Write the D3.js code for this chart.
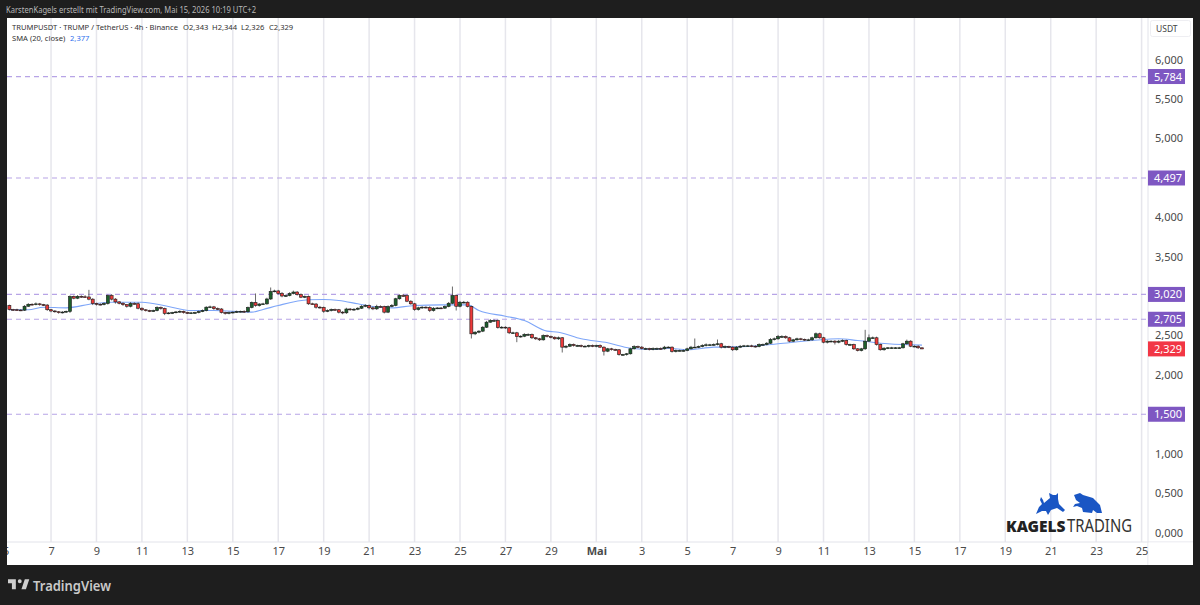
<!DOCTYPE html>
<html>
<head>
<meta charset="utf-8">
<script src="https://cdn.jsdelivr.net/npm/d3@7/dist/d3.min.js"></script>
<style>
html,body{margin:0;padding:0;background:#1e1e1e;overflow:hidden}
svg{display:block}
text{font-family:"Noto Sans",sans-serif}
</style>
</head>
<body>
<svg id="chart" width="1200" height="605"></svg>
<script>
// 4h closes, TRUMP/USDT, starting 5 April 04:00
const firstOpen = 2880;
const closes = [
2829,2826,2822,2820,2870,2895,2892,2900,2890,2885,2826,2810,2800,2790,2796,2805,2994,2972,2995,2990,
2988,2960,2905,2895,2892,2905,3006,2960,2925,2908,2890,2870,2905,2902,2845,2825,2815,2810,2815,2855,
2842,2780,2785,2790,2798,2805,2790,2785,2786,2790,2803,2815,2858,2862,2840,2835,2790,2782,2790,2795,
2802,2805,2800,2854,2918,2880,2898,2900,2962,3057,3064,3032,3000,3006,3032,3050,3019,2985,2994,2901,
2898,2858,2854,2807,2816,2829,2826,2795,2787,2835,2825,2832,2845,2870,2880,2850,2837,2867,2865,2795,
2867,2880,2965,3006,3004,2934,2901,2829,2850,2858,2854,2816,2845,2848,2846,2867,2908,3006,2870,2921,
2921,2867,2520,2541,2554,2604,2668,2689,2689,2600,2604,2597,2533,2533,2486,2490,2512,2512,2470,2457,
2444,2499,2486,2477,2457,2470,2351,2363,2385,2372,2372,2363,2363,2372,2363,2372,2351,2300,2330,2321,
2318,2258,2258,2267,2330,2359,2351,2334,2334,2321,2334,2334,2330,2351,2351,2296,2309,2309,2309,2330,
2351,2351,2359,2372,2381,2381,2385,2394,2351,2359,2351,2318,2351,2363,2368,2368,2363,2359,2385,2385,
2401,2448,2457,2486,2486,2470,2427,2444,2457,2450,2444,2444,2470,2521,2470,2414,2427,2427,2414,2427,
2436,2385,2385,2330,2309,2330,2427,2470,2470,2385,2318,2338,2343,2343,2343,2343,2394,2427,2363,2363,
2343,2329];

// Height of the upper wick above the body, per candle
const upperWicks = [
10,8,12,10,15,14,12,18,12,10,12,8,10,8,12,10,14,12,16,14,
20,90,12,10,12,14,12,18,14,10,12,8,18,14,16,10,8,10,12,14,
12,10,12,10,12,14,10,10,12,10,12,14,12,16,12,14,12,10,12,10,
12,10,14,12,12,114,12,14,16,51,16,14,18,12,16,18,12,14,12,12,
14,12,16,12,14,12,12,10,14,16,12,14,12,14,16,12,16,22,14,12,
14,18,12,16,18,14,12,12,14,14,12,16,14,12,12,14,16,114,14,16,
16,12,10,12,12,14,16,18,14,12,14,12,12,14,12,12,16,14,12,10,
12,14,12,12,10,16,10,14,14,12,10,12,12,10,12,10,14,10,12,12,
10,8,8,10,14,16,12,14,10,10,14,12,14,16,12,10,12,10,12,14,
16,110,12,16,18,12,14,54,12,14,10,10,14,16,12,12,14,12,14,12,
14,18,16,20,16,14,12,12,14,12,10,14,14,16,14,12,16,12,14,16,
14,10,10,10,8,12,144,42,16,14,10,12,10,12,10,12,12,20,12,12,
12,1];

// Depth of the lower wick below the body, per candle
const lowerWicks = [
12,14,10,12,10,8,12,10,14,12,14,16,12,14,12,10,20,14,12,14,
12,14,20,16,12,10,14,16,22,14,16,18,14,12,14,16,12,14,12,10,
16,22,12,14,10,12,14,12,14,12,10,8,10,12,16,14,12,18,14,12,
10,12,14,12,10,16,14,12,10,12,10,14,16,12,10,12,14,12,12,14,
12,18,14,20,12,12,14,16,18,14,12,14,12,10,12,20,16,14,12,16,
12,10,10,12,14,12,12,16,14,12,12,20,14,12,12,10,10,12,54,14,
14,12,59,16,14,12,10,10,12,14,12,14,16,12,72,14,12,14,16,14,
14,10,12,14,12,14,68,14,10,14,12,14,12,16,12,14,12,55,12,14,
12,14,12,14,10,8,12,12,14,12,10,12,12,10,12,14,12,12,14,10,
10,10,12,10,12,10,10,12,16,14,12,16,10,12,10,12,12,14,10,12,
10,10,12,12,14,12,14,12,10,12,14,12,12,10,12,14,16,14,30,14,
12,14,12,14,12,12,14,10,12,14,12,12,12,14,12,12,10,12,12,14,
14,3];

// SMA(20, close), read at selected candle numbers
const smaCandles = [1,6,10,16,23,28,36,43,49,55,65,68,72,80,84,88,93,97,102,108,115,122,125,132,137,143,146,152,159,165,171,175,180,187,196,204,213,220,225,233,242];
const smaValues = [2825,2825,2858,2850,2901,2921,2921,2867,2816,2816,2795,2829,2880,2952,2956,2943,2901,2867,2850,2880,2888,2888,2816,2744,2689,2554,2541,2457,2406,2338,2321,2338,2318,2351,2359,2394,2436,2457,2436,2394,2377];

// Horizontal levels drawn by the author
const levels = [5784,4497,3020,2705,1500];
const lastPrice = 2329;

// Axis ticks: every second day from 5 April
const priceTicks = [0,500,1000,1500,2000,2500,3000,3500,4000,4500,5000,5500,6000];
const dateTickLabels = ["5","7","9","11","13","15","17","19","21","23","25","27","29","Mai","3","5","7","9","11","13","15","17","19","21","23","25"];
const dateTicks = dateTickLabels.map((_, i) => new Date(Date.UTC(2026, 3, 5 + i * 2)));

const titleText = "KarstenKagels erstellt mit TradingView.com, Mai 15, 2026 10:19 UTC+2";
const legendText = "TRUMPUSDT · TRUMP / TetherUS · 4h · Binance";
const legendOhlc = ["O2,343","H2,344","L2,326","C2,329"];

const panel = {left:7, right:1193, top:18, bottom:565, axisX:1148, axisY:542};
const svg = d3.select("#chart");
const fmt = v => d3.format(",.3f")(v / 1000).replace(".", ",");

const x = d3.scaleUtc()
  .domain([new Date(Date.UTC(2026,3,5)), new Date(Date.UTC(2026,4,25))])
  .range([5.6, 1141.6]);
const y = d3.scaleLinear().domain([0,6000]).range([532.5,59.5]);
const candleTime = n => new Date(Date.UTC(2026,3,5) + n * 4 * 3600e3);

svg.append("rect").attr("width",1200).attr("height",605).attr("fill","#1e1e1e");
svg.append("rect").attr("x",panel.left).attr("y",panel.top)
  .attr("width",panel.right-panel.left).attr("height",panel.bottom-panel.top).attr("fill","#fff");

const defs = svg.append("defs");
defs.append("clipPath").attr("id","panelClip").append("rect")
  .attr("x",panel.left).attr("y",panel.top)
  .attr("width",panel.right-panel.left).attr("height",panel.bottom-panel.top);

const root = svg.append("g").attr("clip-path","url(#panelClip)");

// Vertical grid
root.append("g").selectAll("line").data(dateTicks).join("line")
  .attr("x1",d=>x(d)).attr("x2",d=>x(d))
  .attr("y1",panel.top).attr("y2",panel.axisY)
  .attr("stroke","#e6e6ec").attr("stroke-width",1.5);

// Axis frame lines
root.append("line").attr("x1",panel.left).attr("x2",panel.right)
  .attr("y1",panel.axisY).attr("y2",panel.axisY).attr("stroke","#e2e3ea").attr("stroke-width",1);
root.append("line").attr("x1",panel.axisX).attr("x2",panel.axisX)
  .attr("y1",panel.top).attr("y2",panel.bottom).attr("stroke","#e2e3ea").attr("stroke-width",1);

// Author's dashed price levels
root.append("g").selectAll("line").data(levels).join("line")
  .attr("x1",panel.left).attr("x2",panel.axisX)
  .attr("y1",d=>y(d)).attr("y2",d=>y(d))
  .attr("stroke","#b7a4e6").attr("stroke-width",1.2).attr("stroke-dasharray","5 4");

// SMA line
const smaLine = d3.line()
  .x((d,i)=>x(candleTime(smaCandles[i])))
  .y(d=>y(d))
  .curve(d3.curveMonotoneX);
root.append("path").datum(smaValues).attr("d",smaLine)
  .attr("fill","none").attr("stroke","#7ea6f8").attr("stroke-width",1.1);

// Candles
const candles = closes.map((c,i)=>{
  const o = i ? closes[i-1] : firstOpen;
  return {n:i+1, o, c, h:Math.max(o,c)+upperWicks[i], l:Math.min(o,c)-lowerWicks[i]};
});
const cg = root.append("g").selectAll("g").data(candles).join("g");
cg.append("line")
  .attr("x1",d=>x(candleTime(d.n))).attr("x2",d=>x(candleTime(d.n)))
  .attr("y1",d=>y(d.h)).attr("y2",d=>y(d.l))
  .attr("stroke","#444").attr("stroke-width",0.8);
cg.append("rect")
  .attr("x",d=>x(candleTime(d.n))-1.5).attr("width",3)
  .attr("y",d=>y(Math.max(d.o,d.c)))
  .attr("height",d=>Math.max(0.8,Math.abs(y(d.o)-y(d.c))))
  .attr("fill",d=>d.c>=d.o?"#1c5f2c":"#ee3a3a")
  .attr("stroke","#1a1a1a").attr("stroke-width",0.6);

// Price axis
const yAxis = d3.axisRight(y).tickValues(priceTicks).tickSize(0).tickPadding(0).tickFormat(fmt);
const yG = root.append("g").attr("transform","translate(1155,0)").call(yAxis);
yG.select(".domain").remove();
yG.selectAll("text").attr("fill","#4a4a4a").attr("font-size",11).attr("font-family",'"Noto Sans",sans-serif');

// Date axis
const xAxis = d3.axisBottom(x).tickValues(dateTicks).tickSize(0).tickPadding(0)
  .tickFormat((d,i)=>dateTickLabels[i]);
const xG = root.append("g").attr("transform","translate(0,547)").call(xAxis);
xG.select(".domain").remove();
xG.selectAll("text").attr("fill","#4a4a4a").attr("font-size",11).attr("font-family",'"Noto Sans",sans-serif')
  .attr("font-weight",(d,i)=>dateTickLabels[i]==="Mai"?"700":"400");

// Mask the time axis past the price scale so labels stay in the chart area
root.append("rect").attr("x",panel.axisX+0.5).attr("y",panel.axisY+0.5)
  .attr("width",panel.right-panel.axisX).attr("height",panel.bottom-panel.axisY).attr("fill","#fff");

// Price labels over the axis
const tagData = levels.map(v=>({v,fill:"#7e57c2"})).concat([{v:lastPrice,fill:"#f23645"}]);
const tags = root.append("g").selectAll("g").data(tagData).join("g")
  .attr("transform",d=>`translate(${panel.axisX},${y(d.v)})`);
tags.append("rect").attr("x",0).attr("y",-7.5).attr("width",37).attr("height",15).attr("fill",d=>d.fill);
tags.append("text").attr("x",6).attr("y",4).attr("fill","#fff").attr("font-size",11).text(d=>fmt(d.v));

// Currency box
root.append("rect").attr("x",1150.5).attr("y",20.5).attr("width",40).attr("height",16).attr("rx",2)
  .attr("fill","#fff").attr("stroke","#eeeef2");
root.append("text").attr("x",1156).attr("y",32).attr("font-size",8.5).attr("fill","#444").text("USDT");

// Legend
const legend = root.append("g").attr("font-size",7.6).attr("fill","#333");
legend.append("text").attr("x",12).attr("y",30).text(legendText);
const ohlcX = [183,212,241,269];
legendOhlc.forEach((t,i)=>legend.append("text").attr("x",ohlcX[i]).attr("y",30).text(t));
legend.append("text").attr("x",12).attr("y",41).text("SMA (20, close)");
legend.append("text").attr("x",70).attr("y",41).attr("fill","#2f6fed").text(fmt(2377));

// Branding in the lower right
const brand = root.append("g");
brand.append("path").attr("fill","#1a56c4")
  .attr("d","M1036,514 L1039,507 L1042,504 L1040,500 L1041,497 L1043,500 L1044,503 L1050,498 L1049,493 L1053,495 L1056,495 L1058,493 L1058,499 L1059,504 L1065,510 L1063,512 L1057,508 L1051,510 L1048,515 L1046,511 L1042,511 Z");
brand.append("path").attr("fill","#1a56c4")
  .attr("d","M1073,507 L1075,504 L1080,503 L1076,500 L1074,495 L1080,493 L1083,495 L1093,498 L1100,505 L1102,513 L1097,513 L1093,510 L1092,513 L1083,512 L1082,508 L1077,506 Z");
brand.append("text").attr("x",1006).attr("y",532).attr("font-family","Lato").attr("font-weight",900)
  .attr("font-size",15.5).attr("fill","#222").text("KAGELS");
brand.append("text").attr("x",1067).attr("y",532).attr("font-family","Lato").attr("font-weight",400)
  .attr("font-size",17.5).attr("fill","#333").attr("textLength",65).attr("lengthAdjust","spacingAndGlyphs").text("TRADING");

// Header and footer on the dark frame
svg.append("text").attr("x",6).attr("y",13).attr("font-size",8.4).attr("fill","#b8b8b8")
  .attr("textLength",250).attr("lengthAdjust","spacingAndGlyphs").text(titleText);
svg.append("path").attr("transform","translate(8,577) scale(0.56)").attr("fill","#cfcfcf")
  .attr("d","M14 4H0v7h7v11h7V4Zm18 18h-8l6-18h8l-6 18ZM21 11a3.5 3.5 0 1 0 0-7 3.5 3.5 0 0 0 0 7Z");
svg.append("text").attr("x",33).attr("y",590.5).attr("font-size",14.5).attr("font-weight",600)
  .attr("fill","#c9c9c9").attr("textLength",78).attr("lengthAdjust","spacingAndGlyphs").text("TradingView");
</script>
</body>
</html>
